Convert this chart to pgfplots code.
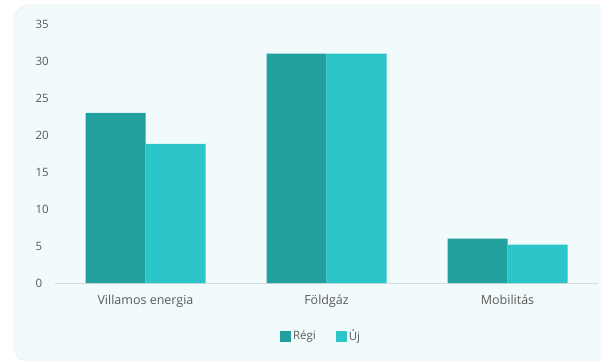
\documentclass[border=0pt]{standalone}
\usepackage{pgfplots}
\pgfplotsset{compat=1.18}
\usepackage{fontspec}
\setmainfont{Open Sans}
\definecolor{regi}{HTML}{229F9F}
\definecolor{uj}{HTML}{2CC5C9}
\definecolor{bgc}{HTML}{F2FBFB}
\definecolor{txt}{HTML}{595959}
\begin{document}
\begin{tikzpicture}[x=1pt,y=1pt]
\useasboundingbox (0,0) rectangle (601,360);
\clip (0,0) rectangle (601,360);
\fill[white] (0,0) rectangle (601,360);
\fill[bgc, draw=black!6, line width=0.8pt, rounded corners=16pt] (14,-2) rectangle (620,355);
\begin{axis}[
  at={(55pt,77pt)}, anchor=south west,
  scale only axis, width=543pt, height=259pt,
  ybar=0pt, bar width=60pt,
  xmin=-0.5, xmax=2.5, ymin=0, ymax=35,
  xtick={0,1,2}, xticklabels={Villamos energia,Földgáz,Mobilitás},
  ytick={0,5,...,35},
  axis line style={draw=none},
  major tick length=0pt,
  tick label style={font=\fontsize{11.5}{13}\selectfont, text=txt},
  /pgf/number format/assume math mode=true,
  yticklabel style={anchor=west, xshift=-23pt},
  xticklabel style={yshift=-8pt, font=\fontsize{12.5}{14}\selectfont},
  legend style={at={(0.49,-0.205)}, anchor=center, draw=none, fill=none,
    legend columns=2, font=\fontsize{11.5}{13}\selectfont, text=txt,
    /tikz/every even column/.append style={column sep=18pt}},
  legend image code/.code={\fill[#1] (0pt,-5.5pt) rectangle (11pt,5.5pt);},
  clip=false,
]
\draw[black!15, line width=0.8pt] (rel axis cs:0,0) -- (rel axis cs:1,0);
\addplot[fill=regi, draw=none] coordinates {(0,23) (1,31) (2,6)};
\addplot[fill=uj, draw=none] coordinates {(0,18.8) (1,31) (2,5.2)};
\legend{Régi,Új}
\end{axis}
\end{tikzpicture}
\end{document}
